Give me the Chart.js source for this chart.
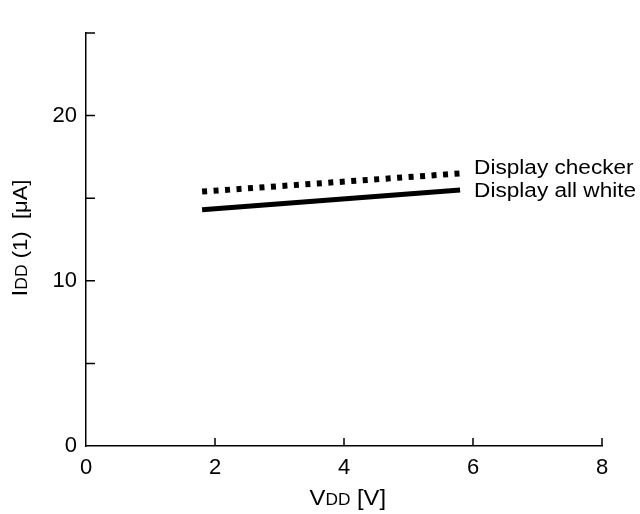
<!DOCTYPE html>
<html>
<head>
<meta charset="utf-8">
<script src="https://cdn.jsdelivr.net/npm/chart.js@4/dist/chart.umd.min.js"></script>
<style>
  html,body{margin:0;padding:0;background:#fff;}
  #wrap{width:640px;height:514px;position:relative;}
</style>
</head>
<body>
<div id="wrap"><canvas id="chart"></canvas></div>
<script>
// data
const vdd = [1.8, 5.8];
const checker = [15.4, 16.5];
const allWhite = [14.3, 15.5];
const seriesNames = ['Display checker', 'Display all white'];
const yTicks = [0, 5, 10, 15, 20, 25];
const yLabelled = [0, 10, 20];
const xTicks = [0, 2, 4, 6, 8];

const FONT = '"Liberation Sans", Arial, sans-serif';

// tick marks point inward, titles with small "DD", line labels
const decor = {
  id: 'decor',
  afterDraw(chart){
    const {ctx, chartArea:a, scales:{x, y}} = chart;
    ctx.save();
    ctx.strokeStyle = '#000';
    ctx.lineWidth = 1.5;
    ctx.beginPath();
    yTicks.forEach(v=>{ if(v===0) return; const p = y.getPixelForValue(v); ctx.moveTo(a.left, p); ctx.lineTo(a.left+9, p); });
    xTicks.forEach(v=>{ if(v===0) return; const p = x.getPixelForValue(v); ctx.moveTo(p, a.bottom); ctx.lineTo(p, a.bottom-8); });
    ctx.stroke();

    ctx.fillStyle = '#000';
    ctx.textBaseline = 'alphabetic';
    // x title: VDD [V]
    const parts = [['V','22px'],['DD','16px'],[' [V]','22px']];
    let w = 0;
    parts.forEach(([t,s])=>{ ctx.font = s+' '+FONT; w += ctx.measureText(t).width; });
    let px = 345 - w/2;
    ctx.save();
    ctx.translate(px, 505);
    ctx.scale(1.08, 1);
    px = 0;
    parts.forEach(([t,s])=>{ ctx.font = s+' '+FONT; ctx.fillText(t, px, 0); px += ctx.measureText(t).width; });
    ctx.restore();

    // y title: IDD (1)  [μA]
    const yp = [['I','22px'],['DD','16px'],[' (1)  [μA]','20px']];
    w = 0;
    yp.forEach(([t,s])=>{ ctx.font = s+' '+FONT; w += ctx.measureText(t).width; });
    ctx.translate(27, 238);
    ctx.rotate(-Math.PI/2);
    ctx.scale(1.1, 1);
    px = -w/2;
    yp.forEach(([t,s])=>{ ctx.font = s+' '+FONT; ctx.fillText(t, px, 0); px += ctx.measureText(t).width; });
    ctx.restore();

    // series labels at the right end of each line
    ctx.save();
    ctx.fillStyle = '#000';
    ctx.font = '20px ' + FONT;
    ctx.textBaseline = 'middle';
    chart.data.datasets.forEach((ds, i)=>{
      const last = ds.data[ds.data.length-1];
      const lx = x.getPixelForValue(last.x) + 14;
      const ly = y.getPixelForValue(last.y) + (i===0 ? -5 : 2);
      ctx.save();
      ctx.translate(lx, ly);
      ctx.scale(1.13, 1);
      ctx.fillText(ds.label, 0, 0);
      ctx.restore();
    });
    ctx.restore();
  }
};

new Chart(document.getElementById('chart'), {
  type: 'line',
  data: {
    datasets: [
      {label: seriesNames[0], data: vdd.map((v,i)=>({x:v, y:checker[i]})),
       borderColor:'#000', borderWidth:6, borderDash:[5,6.5], borderCapStyle:'butt', pointRadius:0, fill:false},
      {label: seriesNames[1], data: vdd.map((v,i)=>({x:v, y:allWhite[i]})),
       borderColor:'#000', borderWidth:5, borderCapStyle:'butt', pointRadius:0, fill:false}
    ]
  },
  options: {
    responsive: true,
    maintainAspectRatio: false,
    animation: false,
    layout: {padding: {top: 33, right: 38, left: 0, bottom: 0}},
    plugins: {legend: {display:false}, tooltip: {enabled:false}},
    scales: {
      x: {
        type: 'linear', min: 0, max: 8,
        afterFit: s => { s.height = 68; },
        afterBuildTicks: s => { s.ticks = xTicks.map(v=>({value:v})); },
        grid: {display: false, drawTicks: false},
        border: {display: true, color: '#000', width: 1.5},
        ticks: {color:'#000', padding: 9, font: {size: 22, family: FONT}, maxRotation: 0}
      },
      y: {
        min: 0, max: 25,
        afterFit: s => { s.width = 86; },
        afterBuildTicks: s => { s.ticks = yTicks.map(v=>({value:v})); },
        grid: {display: false, drawTicks: false},
        border: {display: true, color: '#000', width: 1.5},
        ticks: {color:'#000', padding: 9, font: {size: 22, family: FONT},
                callback: v => yLabelled.includes(v) ? String(v) : ''}
      }
    }
  },
  plugins: [decor]
});
</script>
</body>
</html>
